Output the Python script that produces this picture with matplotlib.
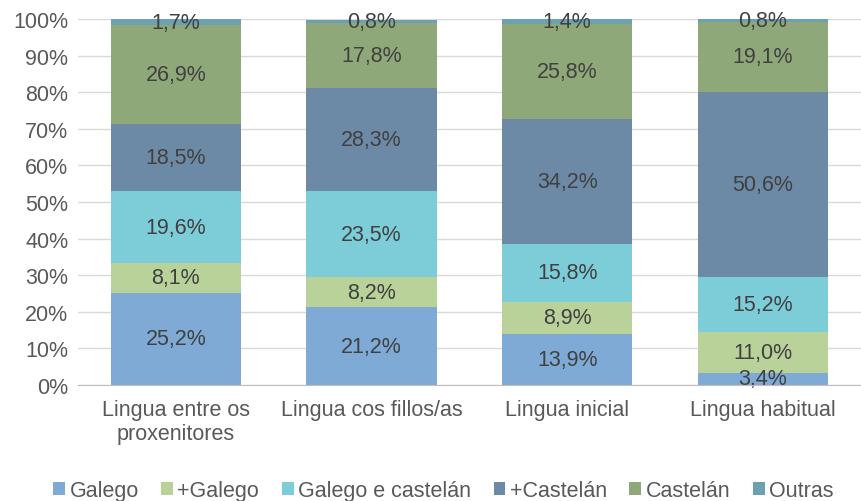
import numpy as np
import matplotlib.pyplot as plt
from matplotlib.patches import Patch

plt.rcParams['font.family'] = ['Liberation Sans', 'DejaVu Sans']

categorias = ["Lingua entre os\nproxenitores", "Lingua cos fillos/as", "Lingua inicial", "Lingua habitual"]
series = ["Galego", "+Galego", "Galego e castelán", "+Castelán", "Castelán", "Outras"]
galego = [25.2, 21.2, 13.9, 3.4]
mais_galego = [8.1, 8.2, 8.9, 11.0]
galego_castelan = [19.6, 23.5, 15.8, 15.2]
mais_castelan = [18.5, 28.3, 34.2, 50.6]
castelan = [26.9, 17.8, 25.8, 19.1]
outras = [1.7, 0.8, 1.4, 0.8]
valores = [galego, mais_galego, galego_castelan, mais_castelan, castelan, outras]
cores = ["#7eaad5", "#b8d29a", "#7dcdd9", "#6c8aa6", "#8fa879", "#6ba1b1"]

fs = 15.5

fig = plt.figure(figsize=(8.61, 5.02), dpi=100)
ax = fig.add_axes([0.0906, 0.231, 0.909, 0.729])

x = np.arange(len(categorias))
base = np.zeros(len(categorias))
for nome, vals, cor in zip(series, valores, cores):
    vals = np.array(vals)
    ax.bar(x, vals, 0.665, bottom=base, color=cor, zorder=2)
    for xi, b, v in zip(x, base, vals):
        ax.text(xi, b + v / 2, f"{v:.1f}%".replace(".", ","), ha="center", va="center",
                fontsize=fs, color="#404040", zorder=3)
    base += vals

ax.set_xlim(-0.5, 3.5)
ax.set_ylim(0, 100)
ax.set_yticks(np.arange(0, 101, 10))
ax.set_yticklabels([f"{t}%" for t in range(0, 101, 10)])
ax.set_xticks(x)
ax.set_xticklabels(categorias, linespacing=1.2)
ax.tick_params(axis="both", length=0, labelsize=fs, labelcolor="#595959")
ax.tick_params(axis="x", pad=10)
ax.tick_params(axis="y", pad=7)
ax.grid(axis="y", color="#d9d9d9", linewidth=1, zorder=0)
for s in ["top", "right", "left"]:
    ax.spines[s].set_visible(False)
ax.spines["bottom"].set_color("#bfbfbf")
ax.spines["bottom"].set_zorder(4)

handles = [Patch(facecolor=c, label=n) for n, c in zip(series, cores)]
fig.legend(handles=handles, loc="center", bbox_to_anchor=(0.515, 0.02), ncol=6, frameon=False,
           fontsize=fs, labelcolor="#595959", handlelength=0.55, handleheight=0.55,
           handletextpad=0.2, columnspacing=1.05)

fig.savefig("out.png", dpi=100)
